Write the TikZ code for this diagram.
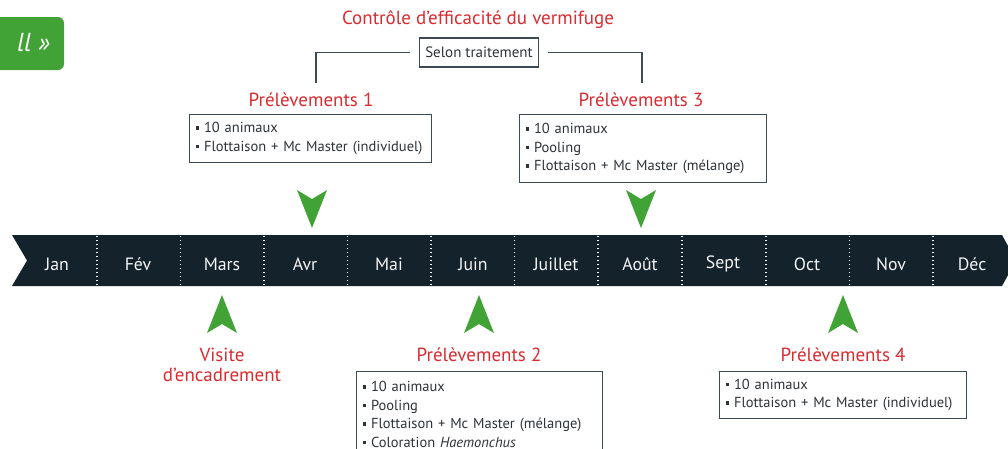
\documentclass[tikz,border=0pt]{standalone}
\usepackage{fontspec}
\setmainfont{PT Sans}
\definecolor{bandcol}{HTML}{14222C}
\definecolor{greencol}{HTML}{41A335}
\definecolor{redcol}{HTML}{D92B30}
\definecolor{boxline}{HTML}{3C4A54}
\definecolor{txtcol}{HTML}{2E3338}
\newcommand\bul{\rule[0.2em]{3.5pt}{3.5pt}\hspace{5pt}}
\tikzset{
  month/.style={text=white!92!gray, font=\fontsize{17.8}{20}\selectfont, inner sep=0pt},
  redtitle/.style={text=redcol, font=\fontsize{19}{21}\selectfont, inner sep=0pt},
  infobox/.style={draw=boxline, line width=1.1pt, fill=white, text=txtcol, anchor=north west,
    font=\fontsize{14.5}{18.5}\selectfont, align=left, inner xsep=6pt, inner ysep=3pt},
  sep/.style={white, line width=1.3pt, dash pattern=on 1.4pt off 2.6pt},
  gline/.style={boxline, line width=1.1pt},
  garrow/.pic={\fill[greencol] (-15,0) -- (0,9) -- (15,0) -- (0,38) -- cycle;}
}
\begin{document}
\begin{tikzpicture}[x=1pt,y=-1pt]
\useasboundingbox (0,0) rectangle (1008,448);
\clip (0,0) rectangle (1008,448);
% green tab
\fill[greencol, rounded corners=6pt] (-20,17) rectangle (64,70);
\node[text=white, font=\fontsize{26}{28}\selectfont\itshape, anchor=east, inner sep=0pt] (tab) at (50,43) {ll »};
% band
\fill[bandcol] (12,235) -- (1002,235) -- (1016,260.5) -- (1002,286) -- (12,286) -- (27,260.5) -- cycle;
\foreach \x in {97,180.5,264,347.5,431,514.5,598,682,766,849.5,933}{
  \draw[sep] (\x,236) -- (\x,286);
}
\node[month] (m1) at (57,264) {Jan};
\node[month] (m2) at (138,264) {Fév};
\node[month] (m3) at (222,264) {Mars};
\node[month] (m4) at (305,264) {Avr};
\node[month] (m5) at (389,264) {Mai};
\node[month] (m6) at (473,264) {Juin};
\node[month] (m7) at (556,264) {Juillet};
\node[month] (m8) at (640,264) {Août};
\node[month] (m9) at (723,264) {Sept};
\node[month] (m10) at (807,264) {Oct};
\node[month] (m11) at (891,264) {Nov};
\node[month] (m12) at (972,264) {Déc};
% top title
\node[redtitle] (ctl) at (478,20) {Contrôle d’efficacité du vermifuge};
\node[draw=boxline, line width=1.1pt, text=txtcol, font=\fontsize{15}{17}\selectfont, minimum width=119, minimum height=29, inner sep=0pt] (sel) at (479,52.5) {Selon traitement};
\coordinate (l1) at (316,83);
\coordinate (l3) at (642,83);
\draw[gline] ([xshift=-9]sel.west) -| (l1);
\draw[gline] ([xshift=9]sel.east) -| (l3);
% Prelevements 1
\node[redtitle] (p1) at (311,100) {Prélèvements 1};
\node[infobox, minimum width=242, text width=230, minimum height=48] (b1) at (189,114) {\bul 10 animaux\\\bul Flottaison + Mc Master (individuel)};
\pic at (312,190) {garrow};
% Prelevements 3
\node[redtitle] (p3) at (641,100) {Prélèvements 3};
\node[infobox, minimum width=247, text width=235, minimum height=68] (b3) at (519,114) {\bul 10 animaux\\\bul Pooling\\\bul Flottaison + Mc Master (mélange)};
\pic at (641,190) {garrow};
% Visite
\pic[yscale=-1] at (222,333) {garrow};
\node[redtitle, align=center, font=\fontsize{19}{20}\selectfont] (vis) at (222,365) {Visite\\d’encadrement};
% Prelevements 2
\pic[yscale=-1] at (479,333) {garrow};
\node[redtitle] (p2) at (479,355) {Prélèvements 2};
\node[infobox, minimum width=246, text width=234, minimum height=86] (b2) at (356,371) {\bul 10 animaux\\\bul Pooling\\\bul Flottaison + Mc Master (mélange)\\\bul Coloration \textit{Haemonchus}};
% Prelevements 4
\pic[yscale=-1] at (843,333) {garrow};
\node[redtitle] (p4) at (843,355) {Prélèvements 4};
\node[infobox, minimum width=247, text width=235, minimum height=47] (b4) at (719,371) {\bul 10 animaux\\\bul Flottaison + Mc Master (individuel)};
\end{tikzpicture}
\end{document}
